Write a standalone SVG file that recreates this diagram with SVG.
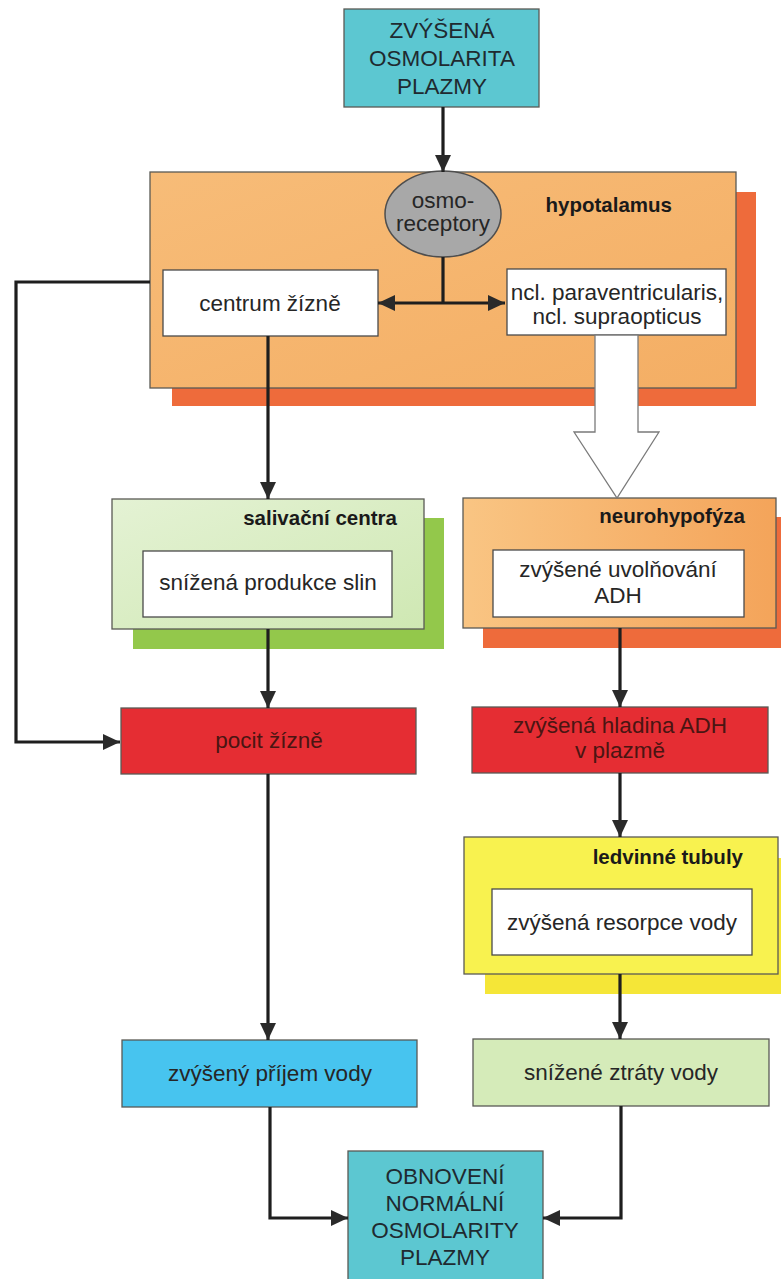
<svg xmlns="http://www.w3.org/2000/svg" width="781" height="1279" viewBox="0 0 781 1279">
<defs>
<style>
text{font-family:"Liberation Sans",Arial,sans-serif;fill:#262626;}
.t{font-size:22.5px;text-anchor:middle;}
.h{font-size:22.5px;text-anchor:middle;fill:#1f2a30;}
.b{font-size:20.5px;font-weight:bold;text-anchor:end;fill:#1a1a1a;}
.bx{stroke:#5a5a55;stroke-width:1.3;}
.w{fill:#ffffff;stroke:#4a4a4a;stroke-width:1.3;}
.c{fill:none;stroke:#1e1e1e;stroke-width:3.2;}
</style>
<marker id="ah" markerUnits="userSpaceOnUse" markerWidth="20" markerHeight="18" refX="17" refY="8" orient="auto-start-reverse">
<path d="M0,0 L17,8 L0,16 Z" fill="#2a2a2a"/>
</marker>
<linearGradient id="gOr" x1="0" y1="0" x2="1" y2="1">
<stop offset="0" stop-color="#f7bc78"/><stop offset="1" stop-color="#f4ae64"/>
</linearGradient>
<linearGradient id="gNe" x1="0" y1="0" x2="1" y2="0">
<stop offset="0" stop-color="#f9c583"/><stop offset="1" stop-color="#f4a45a"/>
</linearGradient>
<linearGradient id="gGr" x1="0" y1="0" x2="1" y2="1">
<stop offset="0" stop-color="#e4f2d4"/><stop offset="1" stop-color="#cfe8b3"/>
</linearGradient>
</defs>

<g id="zvysena-osmolarita">
<rect class="bx" x="344" y="9" width="195" height="98" fill="#5cc7d1"/>
<text class="h" x="442" y="38">ZVÝŠENÁ</text>
<text class="h" x="442" y="66">OSMOLARITA</text>
<text class="h" x="442" y="94">PLAZMY</text>
</g>

<g id="hypotalamus">
<rect x="172" y="192" width="584" height="214" fill="#ee6b3b"/>
<rect class="bx" x="150" y="172" width="586" height="216" fill="url(#gOr)"/>
<text class="b" x="672" y="212">hypotalamus</text>
</g>

<g id="osmoreceptory">
<ellipse cx="443" cy="214" rx="58" ry="43" fill="#a8a8a8" stroke="#4e4e4e" stroke-width="1.5"/>
<text class="t" x="443" y="208">osmo-</text>
<text class="t" x="443" y="231">receptory</text>
</g>

<g id="centrum-zizne">
<rect class="w" x="163" y="270" width="215" height="66"/>
<text class="t" x="270" y="311">centrum žízně</text>
</g>

<g id="ncl">
<rect class="w" x="507" y="269" width="219" height="66"/>
<text class="t" x="617" y="300">ncl. paraventricularis,</text>
<text class="t" x="617" y="324">ncl. supraopticus</text>
</g>

<g id="salivacni-centra">
<rect x="133" y="518" width="311" height="131" fill="#93c84b"/>
<rect class="bx" x="112" y="499" width="312" height="130" fill="url(#gGr)"/>
<text class="b" x="397" y="525">salivační centra</text>
<rect class="w" x="143" y="551" width="249" height="66"/>
<text class="t" x="268" y="590">snížená produkce slin</text>
</g>

<g id="neurohypofyza">
<rect x="483" y="517" width="300" height="131" fill="#ee6b3b"/>
<rect class="bx" x="463" y="498" width="313" height="130" fill="url(#gNe)"/>
<text class="b" x="745" y="523">neurohypofýza</text>
<rect class="w" x="493" y="550" width="251" height="67"/>
<text class="t" x="618" y="577">zvýšené uvolňování</text>
<text class="t" x="618" y="603">ADH</text>
</g>

<g id="pocit-zizne">
<rect class="bx" x="121" y="708" width="295" height="66" fill="#e52d33"/>
<text class="t" x="269" y="748" style="fill:#4a1512">pocit žízně</text>
</g>

<g id="hladina-adh">
<rect class="bx" x="472" y="707" width="296" height="66" fill="#e52d33"/>
<text class="t" x="620" y="733" style="fill:#4a1512">zvýšená hladina ADH</text>
<text class="t" x="620" y="758" style="fill:#4a1512">v plazmě</text>
</g>

<g id="ledvinne-tubuly">
<rect x="485" y="858" width="300" height="136" fill="#f5e637"/>
<rect class="bx" x="464" y="837" width="314" height="137" fill="#f8f24f"/>
<text class="b" x="743" y="864">ledvinné tubuly</text>
<rect class="w" x="492" y="889" width="260" height="66"/>
<text class="t" x="622" y="930">zvýšená resorpce vody</text>
</g>

<g id="zvyseny-prijem">
<rect class="bx" x="122" y="1040" width="295" height="67" fill="#47c4ef"/>
<text class="t" x="270" y="1081">zvýšený příjem vody</text>
</g>

<g id="snizene-ztraty">
<rect class="bx" x="473" y="1039" width="296" height="67" fill="#d5ebb9"/>
<text class="t" x="621" y="1080">snížené ztráty vody</text>
</g>

<g id="obnoveni">
<rect class="bx" x="348" y="1151" width="195" height="140" fill="#5cc7d1"/>
<text class="h" x="445" y="1184">OBNOVENÍ</text>
<text class="h" x="445" y="1211">NORMÁLNÍ</text>
<text class="h" x="445" y="1238">OSMOLARITY</text>
<text class="h" x="445" y="1265">PLAZMY</text>
</g>

<g id="connectors">
<path class="c" d="M443,107 V172" marker-end="url(#ah)"/>
<path class="c" d="M443,257 V303"/>
<path class="c" d="M378,303 H505" marker-start="url(#ah)" marker-end="url(#ah)"/>
<path class="c" d="M150,282 H16 V742 H120" marker-end="url(#ah)"/>
<path class="c" d="M268,336 V499" marker-end="url(#ah)"/>
<polygon points="595,335 638,335 638,432 659,432 617,498 574,432 595,432" fill="#ffffff" stroke="#7a7a7a" stroke-width="1.3"/>
<path class="c" d="M268,629 V708" marker-end="url(#ah)"/>
<path class="c" d="M620,628 V707" marker-end="url(#ah)"/>
<path class="c" d="M268,774 V1040" marker-end="url(#ah)"/>
<path class="c" d="M620,773 V837" marker-end="url(#ah)"/>
<path class="c" d="M620,974 V1039" marker-end="url(#ah)"/>
<path class="c" d="M270,1107 V1218 H348" marker-end="url(#ah)"/>
<path class="c" d="M621,1106 V1218 H543" marker-end="url(#ah)"/>
</g>
</svg>
